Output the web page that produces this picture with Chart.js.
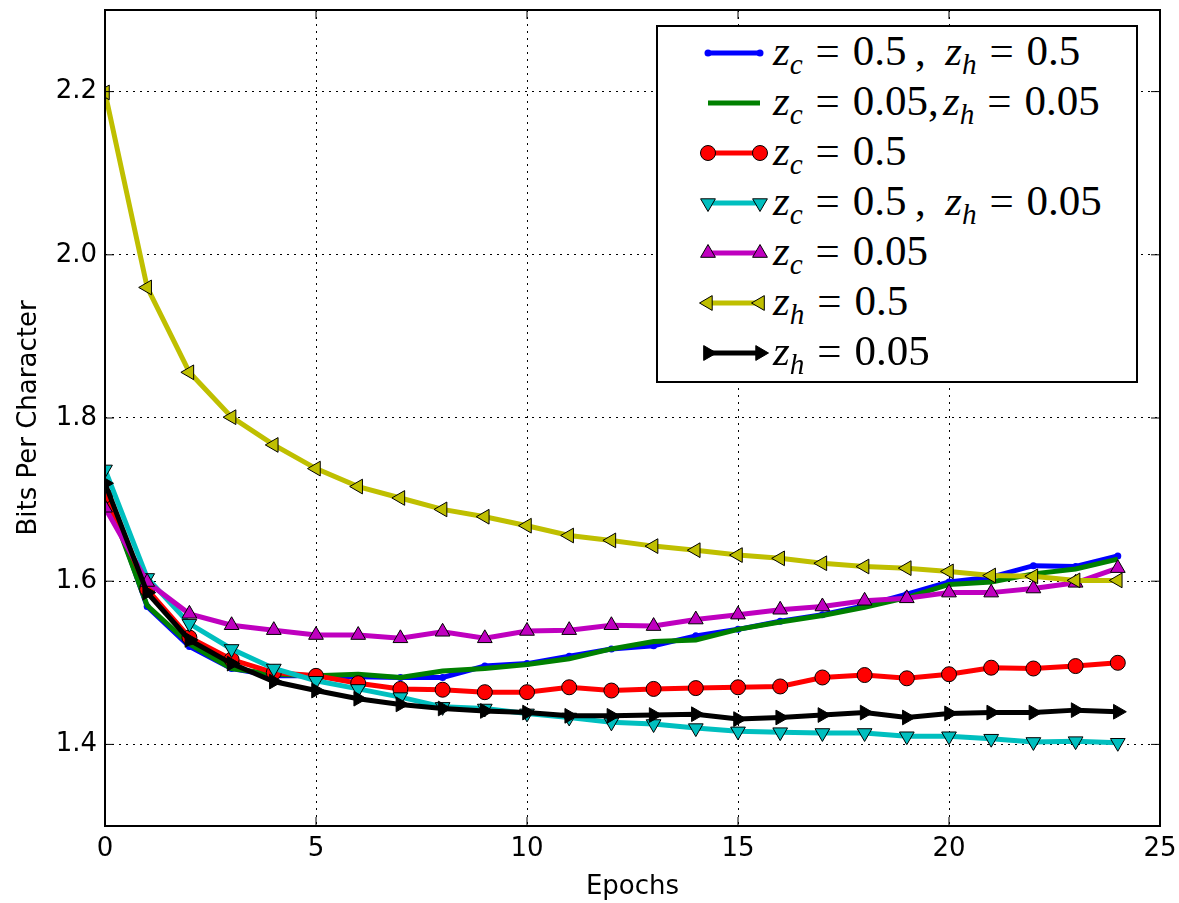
<!DOCTYPE html>
<html>
<head>
<meta charset="utf-8">
<script src="https://cdn.jsdelivr.net/npm/chart.js@4"></script>
<style>
  html, body { margin: 0; padding: 0; background: #fff; }
  #wrap { position: relative; width: 1179px; height: 903px; }
  #legend {
    position: absolute; left: 656px; top: 25px; width: 478px; height: 354px;
    border: 2px solid #000; background: #fff;
    font-family: "Liberation Serif", "DejaVu Serif", serif; font-size: 43px;
  }
  .row { position: absolute; left: 0; height: 50px; }
  .row svg { position: absolute; left: 40px; top: 0; }
  .row .txt { position: absolute; left: 115px; top: -2px; line-height: 50px; white-space: nowrap; }
  .txt i { font-style: italic; }
  .txt sub { font-size: 0.68em; vertical-align: -0.3em; font-style: italic; }
  .eq { margin: 0 0.3em; }
</style>
</head>
<body>
<div id="wrap">
  <canvas id="chart" width="1179" height="903"></canvas>
  <div id="legend"></div>
</div>
<script>
const epochs = [0, 1, 2, 3, 4, 5, 6, 7, 8, 9, 10, 11, 12, 13, 14, 15, 16, 17, 18, 19, 20, 21, 22, 23, 24];

const zc05zh05 = [1.715, 1.569, 1.520, 1.493, 1.484, 1.484, 1.483, 1.482, 1.482, 1.496, 1.499, 1.508, 1.517, 1.521, 1.533, 1.541, 1.551, 1.559, 1.570, 1.584, 1.599, 1.605, 1.619, 1.618, 1.631];
const zc005zh005 = [1.710, 1.570, 1.523, 1.493, 1.486, 1.484, 1.486, 1.482, 1.490, 1.493, 1.498, 1.505, 1.517, 1.526, 1.528, 1.541, 1.550, 1.558, 1.568, 1.580, 1.596, 1.599, 1.609, 1.615, 1.627];
const zc05 = [1.705, 1.590, 1.531, 1.504, 1.488, 1.484, 1.475, 1.468, 1.467, 1.464, 1.464, 1.470, 1.466, 1.468, 1.469, 1.470, 1.471, 1.482, 1.485, 1.481, 1.486, 1.494, 1.493, 1.496, 1.500];
const zc05zh005 = [1.737, 1.604, 1.548, 1.517, 1.493, 1.478, 1.468, 1.458, 1.446, 1.444, 1.438, 1.433, 1.427, 1.425, 1.420, 1.416, 1.415, 1.414, 1.414, 1.410, 1.410, 1.407, 1.403, 1.404, 1.402];
const zc005 = [1.690, 1.599, 1.560, 1.546, 1.540, 1.534, 1.534, 1.530, 1.538, 1.530, 1.539, 1.540, 1.546, 1.545, 1.553, 1.559, 1.565, 1.569, 1.576, 1.579, 1.586, 1.586, 1.591, 1.598, 1.616];
const zh05 = [2.199, 1.960, 1.856, 1.801, 1.767, 1.738, 1.716, 1.702, 1.688, 1.679, 1.668, 1.656, 1.650, 1.643, 1.638, 1.632, 1.628, 1.622, 1.618, 1.616, 1.612, 1.607, 1.606, 1.601, 1.601];
const zh005 = [1.720, 1.586, 1.528, 1.499, 1.477, 1.466, 1.456, 1.449, 1.444, 1.441, 1.439, 1.435, 1.435, 1.436, 1.437, 1.431, 1.433, 1.436, 1.439, 1.433, 1.438, 1.439, 1.439, 1.442, 1.440];

const xTicks = [0, 5, 10, 15, 20, 25];
const yTicks = [1.4, 1.6, 1.8, 2.0, 2.2];

// label, data, colour, marker, marker size, marker rotation
const series = [
  ['z_c = 0.5 ,  z_h = 0.5', zc05zh05, '#0000ff', 'dot', 3.5, 0],
  ['z_c = 0.05, z_h = 0.05', zc005zh005, '#008000', 'none', 0, 0],
  ['z_c = 0.5', zc05, '#ff0000', 'circle', 7.5, 0],
  ['z_c = 0.5 ,  z_h = 0.05', zc05zh005, '#00bfbf', 'triangle', 8.5, 180],
  ['z_c = 0.05', zc005, '#bf00bf', 'triangle', 8.5, 0],
  ['z_h = 0.5', zh05, '#bfbf00', 'triangle', 8.5, 270],
  ['z_h = 0.05', zh005, '#000000', 'triangle', 8.5, 90]
];

const datasets = series.map((s, i) => ({
  label: s[0],
  data: epochs.map((e, j) => ({ x: e, y: s[1][j] })),
  borderColor: s[2],
  borderWidth: 5,
  pointStyle: s[3] === 'dot' ? 'circle' : s[3],
  pointRadius: s[3] === 'none' ? 0 : s[4],
  pointRotation: s[5],
  pointBackgroundColor: s[2],
  pointBorderColor: s[3] === 'dot' ? s[2] : '#000',
  pointBorderWidth: s[3] === 'dot' ? 0 : 1,
  tension: 0,
  order: series.length - i
}));

// frame and inward ticks, matplotlib style
const framePlugin = {
  id: 'frame',
  afterDraw(chart) {
    const { ctx, chartArea: a, scales } = chart;
    ctx.save();
    ctx.strokeStyle = '#000';
    ctx.lineWidth = 1;
    xTicks.forEach(t => {
      const x = scales.x.getPixelForValue(t);
      ctx.beginPath();
      ctx.moveTo(x, a.bottom); ctx.lineTo(x, a.bottom - 9);
      ctx.moveTo(x, a.top); ctx.lineTo(x, a.top + 9);
      ctx.stroke();
    });
    yTicks.forEach(t => {
      const y = scales.y.getPixelForValue(t);
      ctx.beginPath();
      ctx.moveTo(a.left, y); ctx.lineTo(a.left + 9, y);
      ctx.moveTo(a.right, y); ctx.lineTo(a.right - 9, y);
      ctx.stroke();
    });
    ctx.lineWidth = 2;
    ctx.strokeRect(a.left, a.top, a.right - a.left, a.bottom - a.top);
    ctx.restore();
  }
};

const tickFont = { family: 'DejaVu Sans', size: 26 };

new Chart(document.getElementById('chart').getContext('2d'), {
  type: 'line',
  data: { datasets: datasets },
  options: {
    responsive: false,
    animation: false,
    layout: { padding: { top: 10, right: 19, left: 0, bottom: 0 } },
    plugins: { legend: { display: false }, tooltip: { enabled: false } },
    scales: {
      x: {
        type: 'linear', min: 0, max: 25,
        afterBuildTicks: s => { s.ticks = xTicks.map(v => ({ value: v })); },
        afterFit: s => { s.height = 77; s.paddingLeft = 0; s.paddingRight = 0; },
        ticks: { color: '#000', font: tickFont, padding: 8, maxRotation: 0 },
        grid: { color: '#000', lineWidth: 1, drawTicks: false },
        border: { display: false, dash: [2, 5] },
        title: { display: true, text: 'Epochs', color: '#000', font: tickFont, padding: { top: 0, bottom: 0 } }
      },
      y: {
        type: 'linear', min: 1.3, max: 2.3,
        afterBuildTicks: s => { s.ticks = yTicks.map(v => ({ value: v })); },
        afterFit: s => { s.width = 105; s.paddingTop = 0; s.paddingBottom = 0; },
        ticks: { color: '#000', font: tickFont, padding: 8, callback: v => v.toFixed(1) },
        grid: { color: '#000', lineWidth: 1, drawTicks: false },
        border: { display: false, dash: [2, 5] },
        title: { display: true, text: 'Bits Per Character', color: '#000', font: tickFont, padding: { top: 14, bottom: 0 } }
      }
    }
  },
  plugins: [framePlugin]
});

// legend as html
function mathHtml(label) {
  return label.split(/\s*,\s*/).map(part => {
    const m = part.match(/z_(\w)\s*=\s*([\d.]+)/);
    return '<i>z</i><sub>' + m[1] + '</sub><span class="eq">=</span>' + m[2];
  }).join(label.indexOf(' ,') >= 0 ? '<span style="margin:0 0.45em 0 0.2em">,</span>' : ',<span style="margin-left:0.1em"></span>');
}

function sampleSvg(s) {
  const col = s[2], mk = s[3], r = s[4];
  const x1 = 10, x2 = 62, y = 25;
  let out = '<svg width="75" height="50"><line x1="' + x1 + '" y1="' + y + '" x2="' + x2 + '" y2="' + y + '" stroke="' + col + '" stroke-width="5"/>';
  [x1, x2].forEach(x => {
    if (mk === 'dot') out += '<circle cx="' + x + '" cy="' + y + '" r="3.5" fill="' + col + '"/>';
    if (mk === 'circle') out += '<circle cx="' + x + '" cy="' + y + '" r="' + r + '" fill="' + col + '" stroke="#000"/>';
    if (mk === 'triangle') {
      const pts = [0, 120, 240].map(d => {
        const a = (d + s[5]) * Math.PI / 180;
        return (x + Math.sin(a) * r).toFixed(1) + ',' + (y - Math.cos(a) * r).toFixed(1);
      }).join(' ');
      out += '<polygon points="' + pts + '" fill="' + col + '" stroke="#000"/>';
    }
  });
  return out + '</svg>';
}

const legend = document.getElementById('legend');
series.forEach((s, i) => {
  const row = document.createElement('div');
  row.className = 'row';
  row.style.top = (i * 50 + 1) + 'px';
  row.innerHTML = sampleSvg(s) + '<div class="txt">' + mathHtml(s[0]) + '</div>';
  legend.appendChild(row);
});
</script>
</body>
</html>
